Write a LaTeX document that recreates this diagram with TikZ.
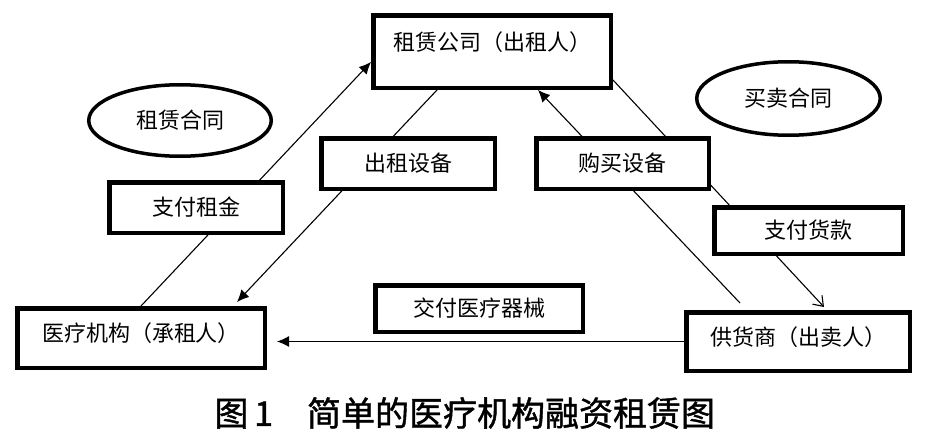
\documentclass[tikz,border=0pt]{standalone}
\usepackage{fontspec}
\setmainfont{Noto Sans CJK SC}
\newfontfamily\capfont{Noto Sans CJK SC}[FakeBold=1.2]
\usetikzlibrary{arrows.meta,shapes.geometric}
\begin{document}
\begin{tikzpicture}[x=1pt,y=-1pt,
    party/.style={draw,line width=4.5pt,fill=white,inner sep=0pt,
      font=\fontsize{22}{22}\selectfont,text height=16pt},
    deal/.style={draw,line width=4.5pt,fill=white,inner sep=0pt,
      font=\fontsize{22}{22}\selectfont},
    pact/.style={draw,ellipse,line width=3.5pt,inner sep=0pt,
      font=\fontsize{22}{22}\selectfont},
    flow/.style={line width=1.1pt},
    tip/.style={-{Latex[length=12pt,width=11pt]}}]
  \useasboundingbox (0,0) rectangle (930,439);
  \draw
    (492,51.5) node[party,minimum width=237.5pt,minimum height=72.5pt,text depth=19pt] (lessor) {租赁公司（出租人）}
    (141,338) node[party,minimum width=247.5pt,minimum height=59.5pt,text depth=10pt] (lessee) {医疗机构（承租人）}
    (798,341.5) node[party,minimum width=223.5pt,minimum height=58.5pt,text depth=9pt] (supplier) {供货商（出卖人）}
    (180,120.5) node[pact,minimum width=182.5pt,minimum height=71.5pt] (lease contract) {租赁合同}
    (788.5,98.5) node[pact,minimum width=183.5pt,minimum height=73.5pt] (sale contract) {买卖合同};
  \begin{scope}[flow]
    \draw[tip] (lessee.north) to ([yshift=-10.5pt]lessor.west);
    \draw[tip] ([xshift=-55pt]lessor.south) to ([xshift=96pt,yshift=4pt]lessee.north);
    \draw[tip] ([xshift=-58pt,yshift=7pt]supplier.north) to ([xshift=46pt]lessor.south);
    \draw[-{Straight Barb[length=9pt,width=13pt]}] ([yshift=-28.5pt]lessor.east) to ([xshift=26pt,yshift=3pt]supplier.north);
    \draw[tip] (supplier.west) to ([xshift=10pt]lessee.east |- supplier.west);
  \end{scope}
  \draw
    (408,163.5) node[deal,minimum width=173.5pt,minimum height=50.5pt] (lease) {出租设备}
    (622.5,163.5) node[deal,minimum width=172.5pt,minimum height=50.5pt] (buy) {购买设备}
    (196,207.5) node[deal,minimum width=173.5pt,minimum height=50.5pt] (rent) {支付租金}
    (808.5,230.5) node[deal,minimum width=188.5pt,minimum height=46.5pt] (pay) {支付货款}
    (479,308.5) node[deal,minimum width=207.5pt,minimum height=46.5pt] (deliver) {交付医疗器械};
  \node[anchor=west,font=\fontsize{34}{34}\capfont] (caption) at (211,413) {图\,1\hspace{1em}简单的医疗机构融资租赁图};
\end{tikzpicture}
\end{document}
